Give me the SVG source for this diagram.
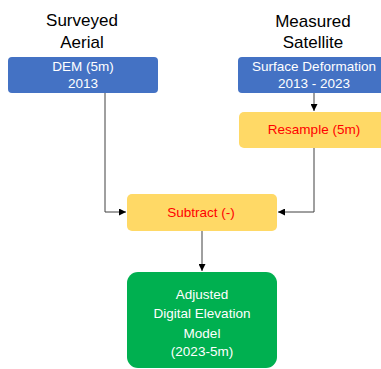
<svg xmlns="http://www.w3.org/2000/svg" width="381" height="369" viewBox="0 0 381 369">
<style>
.t{font-family:"Liberation Sans",Arial,sans-serif;text-anchor:middle}
.title{font-size:17px;fill:#000}
.w{font-size:13.5px;fill:#fff}
.r{font-size:13.5px;fill:#ff0000}
.blue{fill:#4472c4}
.yel{fill:#ffd966}
.grn{fill:#00b050}
.c{stroke:#404040;stroke-width:1;fill:none}
</style>
<defs>
<marker id="ah" viewBox="0 0 10 10" refX="10" refY="5" markerWidth="7" markerHeight="7" markerUnits="userSpaceOnUse" orient="auto">
<path d="M0,0 L10,5 L0,10 z" fill="#000"/>
</marker>
</defs>
<g id="title-left">
<text class="t title" x="82" y="26">Surveyed</text>
<text class="t title" x="82" y="48">Aerial</text>
</g>
<g id="title-right">
<text class="t title" x="313" y="27">Measured</text>
<text class="t title" x="313" y="48">Satellite</text>
</g>
<g id="connectors">
<path class="c" d="M105,93 V212 H126" marker-end="url(#ah)"/>
<path class="c" d="M314,93 V111" marker-end="url(#ah)"/>
<path class="c" d="M314,148 V212 H278" marker-end="url(#ah)"/>
<path class="c" d="M202,231 V271" marker-end="url(#ah)"/>
</g>
<g id="dem">
<rect class="blue" x="8" y="57" width="150" height="36" rx="4"/>
<text class="t w" x="83" y="71">DEM (5m)</text>
<text class="t w" x="83" y="88">2013</text>
</g>
<g id="surface">
<rect class="blue" x="238" y="57" width="148" height="36" rx="4"/>
<text class="t w" x="314" y="71">Surface Deformation</text>
<text class="t w" x="314" y="88">2013 - 2023</text>
</g>
<g id="resample">
<rect class="yel" x="239" y="112" width="148" height="36" rx="5"/>
<text class="t r" x="314" y="134">Resample (5m)</text>
</g>
<g id="subtract">
<rect class="yel" x="127" y="194" width="150" height="37" rx="5"/>
<text class="t r" x="201" y="217">Subtract (-)</text>
</g>
<g id="adjusted">
<rect class="grn" x="127" y="272" width="150" height="96" rx="11"/>
<text class="t w" x="202" y="299">Adjusted</text>
<text class="t w" x="202" y="318">Digital Elevation</text>
<text class="t w" x="202" y="338">Model</text>
<text class="t w" x="202" y="356">(2023-5m)</text>
</g>
</svg>
